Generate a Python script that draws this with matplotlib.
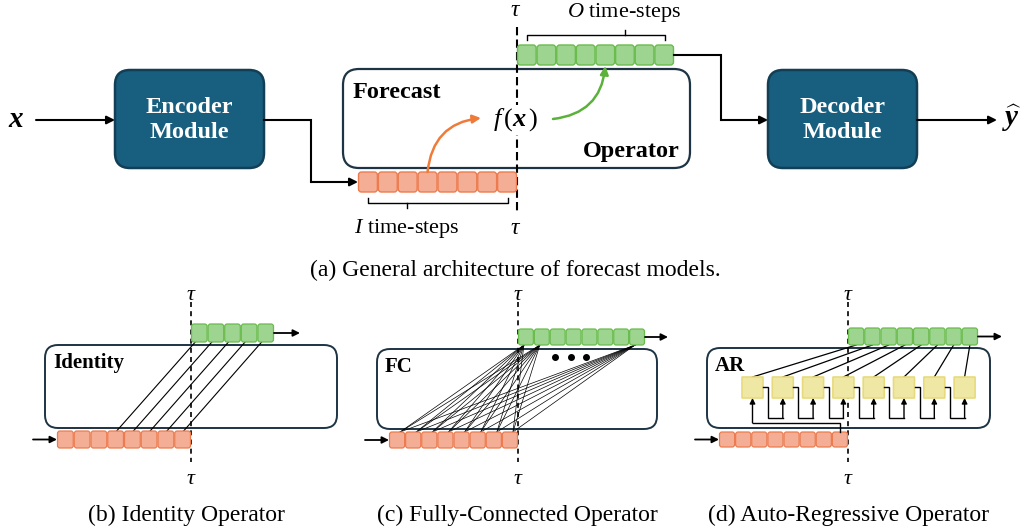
import matplotlib
matplotlib.use('Agg')
import matplotlib.pyplot as plt
from matplotlib.patches import FancyBboxPatch, FancyArrowPatch

plt.rcParams['font.family'] = ['Liberation Serif', 'DejaVu Serif']
plt.rcParams['mathtext.fontset'] = 'custom'
plt.rcParams['mathtext.rm'] = 'Liberation Serif'
plt.rcParams['mathtext.it'] = 'Liberation Serif:italic'
plt.rcParams['mathtext.bf'] = 'Liberation Serif:bold:italic'

# ---------------- content ----------------
module_labels = ['Encoder\nModule', 'Decoder\nModule']
operator_words = ['Forecast', 'Operator']
func_label = r'$f\,(\mathbf{x}\,)$'
in_symbol = r'$\mathbf{x}$'
out_symbol = r'$\widehat{\mathbf{y}}$'
tau_label = r'$\tau$'
input_len_label = r'$I$ time-steps'
output_len_label = r'$O$ time-steps'
captions = ['(a) General architecture of forecast models.',
            '(b) Identity Operator',
            '(c) Fully-Connected Operator',
            '(d) Auto-Regressive Operator']
panel_names = ['Identity', 'FC', 'AR']
n_in_top, n_out_top = 8, 8
n_in_panels = [8, 8, 8]
n_out_panels = [5, 8, 8]
identity_links = [(3, 0), (4, 1), (5, 2), (6, 3), (7, 4)]
fc_targets = [0, 1, 7]
ar_steps = 8

# ---------------- style ----------------
OR_FC, OR_EC = '#f4ae96', '#ec7c4f'
GR_FC, GR_EC = '#9dd490', '#6abc4d'
YE_FC, YE_EC = '#efe8a4', '#e8da7c'
MOD_FC, MOD_EC = '#185e7f', '#123f55'
BOX_EC = '#1d3444'
ORANGE_ARROW = '#ef7b3a'
GREEN_ARROW = '#5bb23a'
CAP_FS = 17

fig = plt.figure(figsize=(10.26, 5.29), dpi=100)
ax = fig.add_axes([0, 0, 1, 1])
ax.set_xlim(0, 1026)
ax.set_ylim(529, 0)
ax.axis('off')


def rbox(x0, y0, x1, y1, r, fc, ec, lw=1.5, z=1):
    p = FancyBboxPatch((x0, y0), x1 - x0, y1 - y0,
                       boxstyle=f'round,pad=0,rounding_size={r}',
                       fc=fc, ec=ec, lw=lw, zorder=z)
    ax.add_patch(p)


def cells(x0, x1, y0, y1, n, fc, ec, r=3, lw=1.0):
    w = (x1 - x0) / n
    centers = []
    for i in range(n):
        rbox(x0 + i * w + 0.5, y0, x0 + (i + 1) * w - 0.5, y1, r, fc, ec, lw=lw, z=4)
        centers.append(x0 + (i + 0.5) * w)
    return centers


def arrow(p0, p1, lw=1.5, ms=12, color='k', z=5):
    a = FancyArrowPatch(p0, p1, arrowstyle='-|>', mutation_scale=ms,
                        lw=lw, color=color, shrinkA=0, shrinkB=0, zorder=z)
    ax.add_patch(a)


def poly_arrow(pts, lw=1.5, ms=12, z=5):
    xs = [p[0] for p in pts[:-1]]
    ys = [p[1] for p in pts[:-1]]
    ax.plot(xs, ys, color='k', lw=lw, zorder=z, solid_joinstyle='miter')
    arrow(pts[-2], pts[-1], lw=lw, ms=ms, z=z)


# ================= (a) top panel =================
ax.text(16, 120, in_symbol, fontsize=21, ha='center', va='center')
arrow((36, 120), (115, 120))
rbox(115, 70, 264, 168, 15, MOD_FC, MOD_EC, lw=1.8, z=2)
ax.text(189.5, 120, module_labels[0], color='white', fontsize=17.5, fontweight='bold',
        ha='center', va='center', linespacing=1.25, zorder=3)
poly_arrow([(264, 120), (311, 120), (311, 182), (358, 182)])

# forecast operator box
rbox(343, 69, 690, 168, 16, 'white', BOX_EC, lw=1.6, z=1)
ax.text(353, 92, operator_words[0], fontsize=17.5, fontweight='bold', ha='left', va='center', zorder=3)
ax.text(680, 151, operator_words[1], fontsize=17.5, fontweight='bold', ha='right', va='center', zorder=3)

# tau line
ax.plot([516.5, 516.5], [27, 213], color='k', lw=1.5, ls=(0, (4, 2)), zorder=2)
ax.text(516, 11, tau_label, fontsize=17, ha='center', va='center')
ax.text(516, 228, tau_label, fontsize=17, ha='center', va='center')
ax.text(516, 120, func_label, fontsize=19, ha='center', va='center', zorder=6,
        bbox=dict(fc='white', ec='none', pad=1))

oc = cells(358, 517, 172, 192, n_in_top, OR_FC, OR_EC)
gc = cells(517, 674, 45, 65, n_out_top, GR_FC, GR_EC)

# braces
ax.plot([368, 368, 508, 508], [198, 203, 203, 198], color='k', lw=1.0)
ax.plot([407, 407], [203, 208], color='k', lw=1.0)
ax.text(407, 229, input_len_label, fontsize=16, ha='center', va='center')
ax.plot([527, 527, 665, 665], [40, 35, 35, 40], color='k', lw=1.0)
ax.plot([625, 625], [35, 30], color='k', lw=1.0)
ax.text(624, 13, output_len_label, fontsize=16, ha='center', va='center')

# curved arrows
ax.add_patch(FancyArrowPatch((oc[3], 172), (481, 118), connectionstyle='arc3,rad=-0.4',
                             arrowstyle='-|>', mutation_scale=12, lw=1.8,
                             color=ORANGE_ARROW, shrinkA=0, shrinkB=0, zorder=5))
ax.add_patch(FancyArrowPatch((553, 119), (gc[4], 66), connectionstyle='arc3,rad=0.4',
                             arrowstyle='-|>', mutation_scale=12, lw=1.8,
                             color=GREEN_ARROW, shrinkA=0, shrinkB=0, zorder=5))

poly_arrow([(674, 55), (721, 55), (721, 120), (768, 120)])
rbox(768, 70, 917, 168, 15, MOD_FC, MOD_EC, lw=1.8, z=2)
ax.text(842.5, 120, module_labels[1], color='white', fontsize=17.5, fontweight='bold',
        ha='center', va='center', linespacing=1.25, zorder=3)
arrow((917, 120), (997, 120))
ax.text(1012, 118, out_symbol, fontsize=21, ha='center', va='center')

ax.text(515, 270, captions[0], fontsize=CAP_FS, ha='center', va='center')

# ================= bottom panels =================
name_caption = dict(zip(panel_names, captions[1:]))


def panel_frame(tx, box, in_x, out_x, name, cap_x, n_in, n_out, in_arrow_x0, out_arrow_x1, y_out, y_in):
    ax.plot([tx, tx], [302, 462], color='k', lw=1.2, ls=(0, (3, 2.5)), zorder=2)
    ax.text(tx, 296, tau_label, fontsize=16, ha='center', va='center')
    ax.text(tx, 480, tau_label, fontsize=16, ha='center', va='center')
    rbox(box[0], box[1], box[2], box[3], 13, 'white', BOX_EC, lw=1.4, z=1)
    ax.text(box[0] + 8, box[1] + 18, name, fontsize=15, fontweight='bold', ha='left', va='center', zorder=3)
    ic = cells(in_x[0], in_x[1], y_in[0], y_in[1], n_in, OR_FC, OR_EC, r=2.5, lw=0.9)
    gcs = cells(out_x[0], out_x[1], y_out[0], y_out[1], n_out, GR_FC, GR_EC, r=2.5, lw=0.9)
    arrow((in_arrow_x0, (y_in[0] + y_in[1]) / 2), (in_x[0], (y_in[0] + y_in[1]) / 2), lw=1.3, ms=10)
    arrow((out_x[1], (y_out[0] + y_out[1]) / 2), (out_arrow_x1, (y_out[0] + y_out[1]) / 2), lw=1.3, ms=10)
    ax.text(cap_x, 515, name_caption[name], fontsize=CAP_FS, ha='center', va='center')
    return ic, gcs


# (b) identity
ic, gcs = panel_frame(191, (45, 345, 337, 428), (57, 191), (191, 274), panel_names[0], 186,
                      n_in_panels[0], n_out_panels[0], 33, 300, (324, 342), (431, 448))
for i, j in identity_links:
    ax.plot([ic[i] + 1, gcs[j] - 4], [431, 342], color='k', lw=0.8, zorder=3)

# (c) fully connected
ic, gcs = panel_frame(518, (377, 349, 657, 429), (389, 518), (518, 645), panel_names[1], 517,
                      n_in_panels[1], n_out_panels[1], 365, 668, (329, 345), (432, 448))
for i in range(len(ic)):
    for j in fc_targets:
        ax.plot([ic[i] + 3, gcs[j] - 2], [432, 345], color='k', lw=0.5, zorder=3)
ax.plot([555, 571, 586], [357, 357, 357], 'o', color='k', ms=4, zorder=3)

# (d) auto-regressive
ic, gcs = panel_frame(848, (707, 348, 990, 428), (719, 848), (848, 978), panel_names[2], 848,
                      n_in_panels[2], n_out_panels[2], 695, 1002, (328, 345), (432, 447))
yx0, ystep, yw = 742, 30.3, 21
ytop, ybot = 377, 398
yc = []
for k in range(ar_steps):
    x0 = yx0 + k * ystep
    rbox(x0, ytop, x0 + yw, ybot, 0.5, YE_FC, YE_EC, lw=1.2, z=4)
    yc.append(x0 + yw / 2)
for k in range(ar_steps):
    ax.plot([yc[k], gcs[k]], [ytop, 345], color='k', lw=0.9, zorder=3)
poly_arrow([(ic[-1], 432), (ic[-1], 423), (yc[0], 423), (yc[0], ybot)], lw=1.0, ms=8)
for k in range(ar_steps - 1):
    xr = yx0 + k * ystep + yw
    poly_arrow([(xr, 387), (xr + 5, 387), (xr + 5, 418), (yc[k + 1], 418), (yc[k + 1], ybot)],
               lw=1.0, ms=8)

fig.savefig('out.png', dpi=100)
